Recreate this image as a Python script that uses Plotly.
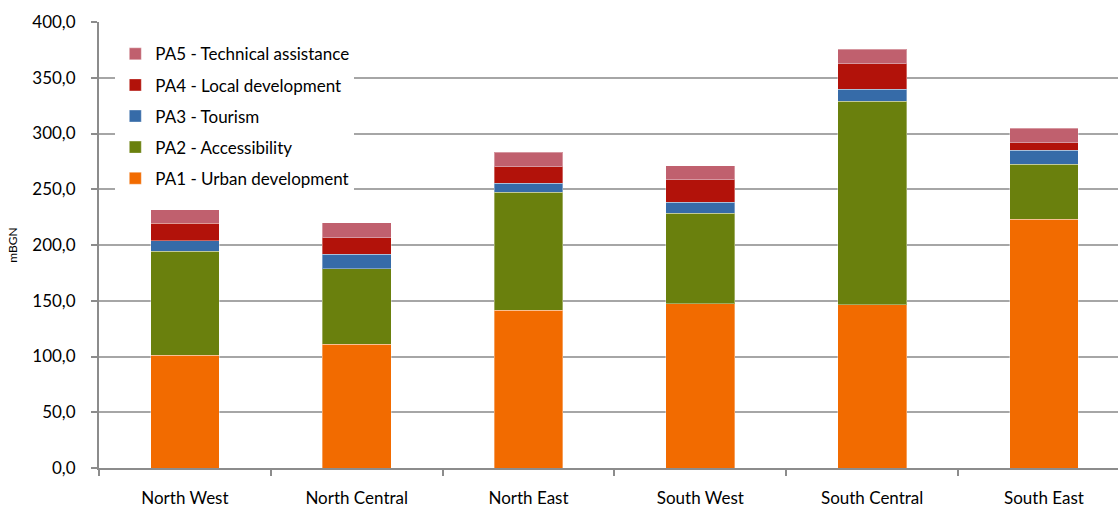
import plotly.graph_objects as go

regions = ["North West", "North Central", "North East", "South West", "South Central", "South East"]
pa1 = [101.3, 111.2, 141.7, 147.1, 146.2, 223.0]
pa2 = [92.9, 67.3, 105.5, 81.3, 182.7, 49.3]
pa3 = [9.4, 13.1, 8.1, 9.9, 10.7, 12.9]
pa4 = [16.1, 15.0, 14.9, 20.3, 23.0, 6.6]
pa5 = [12.1, 13.4, 13.2, 12.3, 12.9, 12.8]

series = [
    ("PA1 - Urban development", pa1, "#F26B00"),
    ("PA2 - Accessibility", pa2, "#6A800D"),
    ("PA3 - Tourism", pa3, "#366BA8"),
    ("PA4 - Local development", pa4, "#B2120A"),
    ("PA5 - Technical assistance", pa5, "#C0606E"),
]

fig = go.Figure()
for i, (name, vals, col) in enumerate(series):
    fig.add_trace(go.Bar(
        x=regions, y=vals, name=name, legendgroup=name,
        legendrank=1000 - i,
        marker=dict(color=col, line=dict(color="rgba(255,255,255,0.35)", width=1)),
        width=0.40,
    ))

font = "Lato, 'Open Sans', sans-serif"
fig.update_layout(
    barmode="stack",
    width=1118, height=507,
    margin=dict(l=99, r=0, t=22, b=39),
    paper_bgcolor="white", plot_bgcolor="white",
    separators=",.",
    font=dict(family=font, size=17, color="#000"),
    legend=dict(
        x=0.016, y=0.968, xanchor="left", yanchor="top",
        traceorder="grouped", tracegroupgap=6,
        font=dict(size=17, color="#000"),
        bgcolor="rgba(255,255,255,1)",
        itemwidth=30,
    ),
    showlegend=True,
)
fig.update_yaxes(
    range=[0, 400], dtick=50, tickformat=".1f",
    showgrid=True, gridcolor="#A6A6A6", gridwidth=1.5,
    showline=True, linecolor="#8C8C8C", linewidth=2,
    ticks="outside", ticklen=6, tickcolor="#8C8C8C", tickwidth=1.5,
    tickfont=dict(size=17), ticklabelstandoff=12,
    title=dict(text="mBGN", font=dict(size=12), standoff=12),
    zeroline=False, automargin=False,
)
fig.update_xaxes(
    range=[-0.5, 5.431],
    showline=True, linecolor="#8C8C8C", linewidth=2,
    ticks="outside", tickson="boundaries", ticklen=6, tickcolor="#8C8C8C", tickwidth=1.5,
    tickfont=dict(size=17), ticklabelstandoff=14,
    automargin=False,
)

fig.write_html("out.html")
